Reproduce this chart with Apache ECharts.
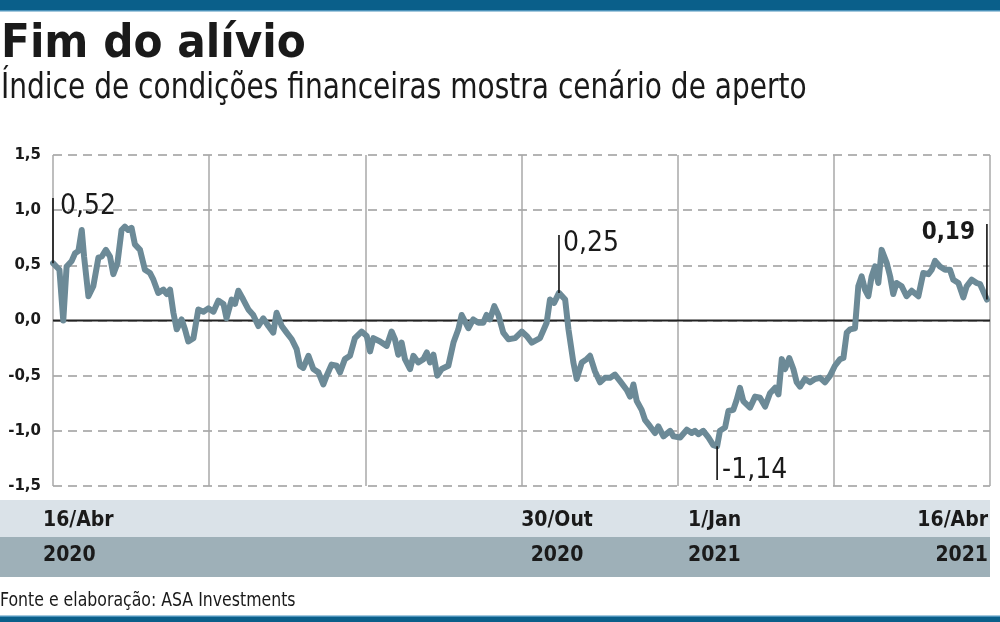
<!DOCTYPE html>
<html>
<head>
<meta charset="utf-8">
<script src="https://cdn.jsdelivr.net/npm/echarts@6/dist/echarts.min.js"></script>
<style>
html, body { margin: 0; padding: 0; background: #fff; }
#chart { width: 1000px; height: 622px; }
</style>
</head>
<body>
<div id="chart"></div>
<script>
// days counted from 16/Abr/2020, values of the index
var days = [
    0, 2.5, 4, 5.3, 7.3, 8.6, 9.9, 11.2, 12.1, 13.8, 15.7, 17.7, 19, 20.6, 22.2, 23.5, 25.1, 26.7, 28, 29.3,
    30.6, 31.9, 33.9, 35.8, 37.8, 39.1, 41, 43, 44.3, 45.6, 46.9, 48.2, 50.1, 51.4, 52.7, 54.7, 56.6, 58.6, 60.5, 62.5,
    64.4, 66.4, 67.6, 69.6, 70.9, 72.2, 74.1, 76.1, 78, 80, 81.9, 83.9, 85.8, 87.1, 89.1, 91, 93, 94.9, 96.2, 97.5,
    99.5, 101.4, 103.4, 105.3, 106.6, 108.5, 110.5, 111.8, 113.7, 115.7, 117.6, 120.2, 122.2, 123.5, 124.8, 127.4, 130, 131.9, 133.2, 134.5,
    135.8, 137.1, 139.1, 140.4, 142.3, 144.3, 145.6, 146.9, 148.2, 149.7, 151.4, 154, 156, 157.9, 159.2, 160.5, 161.8, 163.7, 165.7, 167.6,
    168.9, 170.2, 171.9, 173.5, 175.4, 177.4, 180, 182.6, 184.5, 186.5, 189.7, 192.3, 193.6, 195.2, 197.1, 199.5, 200.8, 202.7, 204, 206,
    207.9, 209.2, 211.1, 213.1, 215, 217, 218.9, 220.9, 223.5, 224.8, 226.1, 227.4, 229.3, 230.6, 232.6, 234.5, 235.8, 237.8, 240.4, 241.7,
    244.3, 246.9, 248.8, 250.1, 251.4, 253.3, 255.3, 257.2, 258.7, 259.8, 261.8, 263.1, 265, 266.3, 267.6, 268.9, 271.5, 273.5, 275.4, 277.4,
    279.3, 281.3, 282.6, 283.9, 285.2, 286.8, 288.4, 289.7, 291, 292.9, 294.9, 296.8, 298.8, 300.7, 302.7, 304.6, 306.6, 307.9, 309.2, 310.5,
    312.4, 313.7, 315, 316.3, 317.6, 318.9, 320.2, 321.5, 322.8, 324.8, 326.1, 327.3, 328.6, 330.6, 332.5, 334.5, 337.1, 339, 341, 342.3,
    343.6, 345.5, 347.5, 349.4, 350.7, 352.7, 354.6, 355.9, 357.9, 359.8, 361.1, 363.8
];
var values = [
    0.52, 0.46, 0.0, 0.49, 0.54, 0.61, 0.63, 0.82, 0.58, 0.22, 0.31, 0.57, 0.58, 0.64, 0.58, 0.42, 0.52, 0.82, 0.85, 0.82,
    0.84, 0.69, 0.64, 0.46, 0.43, 0.37, 0.25, 0.28, 0.24, 0.28, 0.07, -0.08, 0.01, -0.08, -0.19, -0.16, 0.10, 0.08, 0.11, 0.08,
    0.18, 0.15, 0.02, 0.19, 0.15, 0.27, 0.19, 0.10, 0.05, -0.05, 0.02, -0.05, -0.11, 0.07, -0.05, -0.11, -0.17, -0.26, -0.41, -0.43,
    -0.32, -0.44, -0.47, -0.58, -0.50, -0.40, -0.41, -0.47, -0.35, -0.32, -0.16, -0.10, -0.14, -0.28, -0.16, -0.19, -0.23, -0.10, -0.17, -0.31,
    -0.20, -0.35, -0.44, -0.32, -0.38, -0.35, -0.29, -0.38, -0.31, -0.50, -0.44, -0.41, -0.20, -0.08, 0.05, -0.01, -0.07, 0.01, -0.02, -0.02,
    0.05, 0.01, 0.13, 0.05, -0.11, -0.17, -0.16, -0.10, -0.14, -0.20, -0.16, -0.02, 0.19, 0.16, 0.25, 0.19, -0.08, -0.38, -0.53, -0.38,
    -0.35, -0.32, -0.46, -0.56, -0.52, -0.52, -0.49, -0.55, -0.63, -0.69, -0.58, -0.73, -0.81, -0.90, -0.96, -1.02, -0.96, -1.05, -1.00, -1.05,
    -1.06, -0.99, -1.02, -1.00, -1.03, -1.00, -1.06, -1.13, -1.14, -1.00, -0.97, -0.82, -0.81, -0.72, -0.61, -0.73, -0.79, -0.69, -0.70, -0.78,
    -0.66, -0.61, -0.67, -0.35, -0.44, -0.34, -0.44, -0.56, -0.60, -0.53, -0.56, -0.53, -0.52, -0.56, -0.50, -0.41, -0.35, -0.34, -0.11, -0.08,
    -0.07, 0.31, 0.40, 0.28, 0.22, 0.40, 0.49, 0.34, 0.64, 0.52, 0.40, 0.24, 0.34, 0.31, 0.22, 0.27, 0.22, 0.43, 0.42, 0.46,
    0.54, 0.49, 0.46, 0.46, 0.37, 0.34, 0.21, 0.31, 0.37, 0.34, 0.33, 0.19
];

var dateLabels = ["16/Abr", "30/Out", "1/Jan", "16/Abr"];
var yearLabels = ["2020", "2020", "2021", "2021"];

// highlighted points: where, value, how far the pointer line goes, text
var noteDays = [0, 197.1, 258.7, 363.8];
var noteValues = [0.52, 0.25, -1.14, 0.19];
var noteEnds = [1.11, 0.775, -1.446, 0.875];
var noteTexts = ["0,52", "0,25", "-1,14", "0,19"];

var titleText = "Fim do alívio";
var subtitleText = "Índice de condições financeiras mostra cenário de aperto";
var sourceText = "Fonte e elaboração: ASA Investments";

var narrow = "'Liberation Sans Narrow', 'DejaVu Sans Condensed', sans-serif";
var cond = "'DejaVu Sans Condensed', 'DejaVu Sans', sans-serif";
var ink = "#1a1a1a";

var seriesData = days.map(function (d, i) { return [d, values[i]]; });

var myChart = echarts.init(document.getElementById("chart"));

var option = {
    animation: false,
    backgroundColor: "#fff",
    grid: { left: 53, right: 10, top: 155, height: 331 },
    xAxis: {
        type: "value",
        min: 0,
        max: 365,
        interval: 365 / 6,
        axisLine: { show: false },
        axisTick: { show: false },
        axisLabel: { show: false },
        splitLine: { show: true, lineStyle: { color: "#a9a9a9", width: 1.5 } }
    },
    yAxis: {
        type: "value",
        min: -1.5,
        max: 1.5,
        interval: 0.5,
        axisLine: { show: false },
        axisTick: { show: false },
        axisLabel: {
            margin: 12,
            color: ink,
            fontFamily: "'DejaVu Sans', sans-serif",
            fontWeight: "bold",
            fontSize: 15,
            formatter: function (v) { return v.toFixed(1).replace(".", ","); }
        },
        splitLine: { show: true, lineStyle: { color: "#9c9c9c", width: 1.5, type: [9, 6] } }
    },
    series: [{
        type: "line",
        data: seriesData,
        showSymbol: false,
        z: 3,
        lineStyle: { color: "#6c8a97", width: 6, join: "round", cap: "round" }
    }]
};
myChart.setOption(option);

function px(d, v) {
    return myChart.convertToPixel({ gridIndex: 0 }, [d, v]);
}

var g = [];
// top and bottom bars
g.push({ type: "rect", shape: { x: 0, y: 0, width: 1000, height: 10 }, style: { fill: "#0a5f8a" } });
g.push({ type: "rect", shape: { x: 0, y: 10, width: 1000, height: 1.5 }, style: { fill: "#4d93bb" } });
g.push({ type: "rect", shape: { x: 0, y: 615.5, width: 1000, height: 1.5 }, style: { fill: "#4d93bb" } });
g.push({ type: "rect", shape: { x: 0, y: 617, width: 1000, height: 5 }, style: { fill: "#0a5f8a" } });

// title
g.push({ type: "text", x: 1, y: 45, style: { text: titleText, font: "bold 47px " + cond, fill: ink, align: "left", verticalAlign: "middle" } });
g.push({ type: "text", x: 1, y: 89, scaleX: 0.89, style: { text: subtitleText, font: "35px " + narrow, fill: ink, align: "left", verticalAlign: "middle" } });

// zero line
var z0 = px(0, 0), z1 = px(365, 0);
g.push({ type: "line", z: 1, shape: { x1: z0[0], y1: z0[1], x2: z1[0], y2: z1[1] }, style: { stroke: "#222", lineWidth: 1.8 } });

// date bands
g.push({ type: "rect", shape: { x: 0, y: 500, width: 990, height: 37 }, style: { fill: "#dae2e8" } });
g.push({ type: "rect", shape: { x: 0, y: 537, width: 990, height: 40 }, style: { fill: "#9eb0b8" } });
var labelX = [43, 557, 688, 988];
var labelAlign = ["left", "center", "left", "right"];
dateLabels.forEach(function (t, i) {
    g.push({ type: "text", x: labelX[i], y: 521, style: { text: t, font: "bold 21px " + cond, fill: ink, align: labelAlign[i], verticalAlign: "middle" } });
    g.push({ type: "text", x: labelX[i], y: 556, style: { text: yearLabels[i], font: "bold 21px " + cond, fill: ink, align: labelAlign[i], verticalAlign: "middle" } });
});

// source
g.push({ type: "text", x: 0, y: 601, scaleX: 0.875, style: { text: sourceText, font: "20px " + narrow, fill: ink, align: "left", verticalAlign: "middle" } });

// annotations
var noteDx = [7, 4, 5, -12];
var noteAlign = ["left", "left", "left", "right"];
noteDays.forEach(function (d, i) {
    var a = px(d, noteValues[i]);
    var b = px(d, noteEnds[i]);
    g.push({ type: "line", z: 10, shape: { x1: a[0], y1: a[1], x2: b[0], y2: b[1] }, style: { stroke: "#111", lineWidth: 1.6 } });
    var last = i === noteDays.length - 1;
    var ty = noteValues[i] < 0 ? b[1] - 9 : b[1] + 9;
    g.push({
        type: "text", z: 10, x: b[0] + noteDx[i], y: ty,
        style: {
            text: noteTexts[i],
            font: last ? "bold 24px " + cond : "28px " + narrow,
            fill: ink, align: noteAlign[i], verticalAlign: "middle"
        }
    });
});

myChart.setOption({ graphic: { elements: g } });
</script>
</body>
</html>
